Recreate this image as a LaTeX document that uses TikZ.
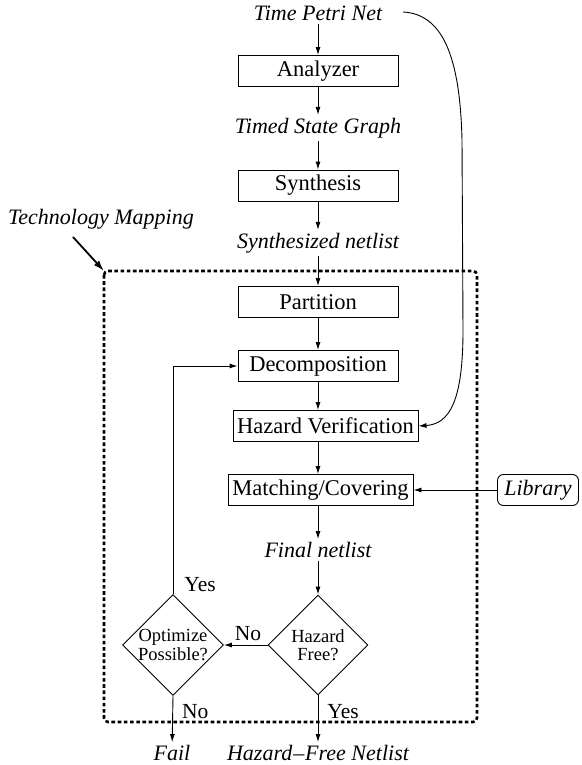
\documentclass[tikz,border=0pt]{standalone}
\usepackage{fontspec}
\setmainfont{Liberation Serif}
\usetikzlibrary{shapes.geometric,arrows.meta}
\begin{document}
\begin{tikzpicture}[x=1pt,y=-1pt,
  every node/.style={font=\fontsize{22.5}{26}\selectfont, inner sep=3pt},
  stepbox/.style={draw, line width=0.9pt, minimum height=31pt, inner sep=0pt},
  lbl/.style={font=\fontsize{22}{26}\selectfont\itshape},
  yn/.style={font=\fontsize{21.5}{25}\selectfont, inner sep=0pt},
  decision/.style={draw, diamond, line width=0.9pt, minimum width=100pt, minimum height=100pt, inner sep=0pt, align=center, font=\fontsize{18.5}{18.5}\selectfont},
  conn/.style={line width=0.9pt, -{Latex[length=8pt,width=5pt]}},
  techbox/.style={line width=2.6pt, dash pattern=on 3.6pt off 2.6pt, rounded corners=4pt}
]
\useasboundingbox (0,0) rectangle (581,765);

% text labels
\node[lbl] (tpn) at (318,13) {Time Petri Net};
\node[lbl] (tsg) at (318,128) {Timed State Graph};
\node[lbl] (sn) at (318,243) {Synthesized netlist};
\node[lbl] (fn) at (318,550) {Final netlist};
\node[lbl] (fail) at (172,753) {Fail};
\node[lbl] (hfn) at (318,753) {Hazard\kern1pt–\kern1pt Free Netlist};
\node[lbl] (tm) at (101,219) {Technology Mapping};

% boxes
\node[stepbox, minimum width=160pt] (an) at (318,71) {Analyzer};
\node[stepbox, minimum width=160pt] (sy) at (318,185.5) {Synthesis};
\node[stepbox, minimum width=160pt] (pa) at (318,302) {Partition};
\node[stepbox, minimum width=160pt] (de) at (318,366) {Decomposition};
\node[stepbox, minimum width=185pt] (hv) at (325.5,426) {Hazard Verification};
\node[stepbox, minimum width=185pt] (mc) at (320.5,490) {Matching/Covering};
\node[stepbox, minimum width=81pt, rounded corners=6pt, font=\fontsize{22}{26}\selectfont\itshape] (lib) at (538,490) {Library};

% decisions
\node[decision] (hf) at (318,645) {Hazard\\Free?};
\node[decision] (op) at (173,645) {Optimize\\Possible?};

% technology mapping frame
\coordinate (tl) at (104,271);
\coordinate (br) at (477,722);
\draw[techbox] (tl) rectangle (br);
\coordinate (tmstart) at (73,237);
\draw[line width=1.8pt, -{Latex[length=11pt,width=7pt]}] (tmstart) -- (tl);

% connectors
\draw[conn] (tpn) -- (an);
\draw[conn] (an) -- (tsg);
\draw[conn] (tsg) -- (sy);
\draw[conn] (sy) -- (sn);
\draw[conn] (sn) -- (pa);
\draw[conn] (pa) -- (de);
\draw[conn] (de.south) -- (de.south |- hv.north);
\draw[conn] (de.south |- hv.south) -- (de.south |- mc.north);
\draw[conn] (de.south |- mc.south) -- (fn);
\draw[conn] (fn) -- (hf);
\draw[conn] (lib) -- (mc);
\draw[conn] (hf.west) -- node[yn, above, pos=0.45, yshift=4pt] {No} (op.east);
\draw[conn] (op.south) -- node[yn, right, pos=0.35, xshift=9pt] {No} (fail);
\draw[conn] (hf.south) -- node[yn, right, pos=0.35, xshift=9pt] {Yes} (hfn);
\draw[conn] (op.north) -- node[yn, right, pos=0.05, xshift=11pt, yshift=-2pt] {Yes} (op.north |- de.west) -- (de.west);
\coordinate (cstart) at (403,12);
\draw[conn] (cstart) .. controls (442,14) and (460,55) .. (462,140)
   -- (463,330) .. controls (463,400) and (450,424) .. (hv.east);
\end{tikzpicture}
\end{document}
